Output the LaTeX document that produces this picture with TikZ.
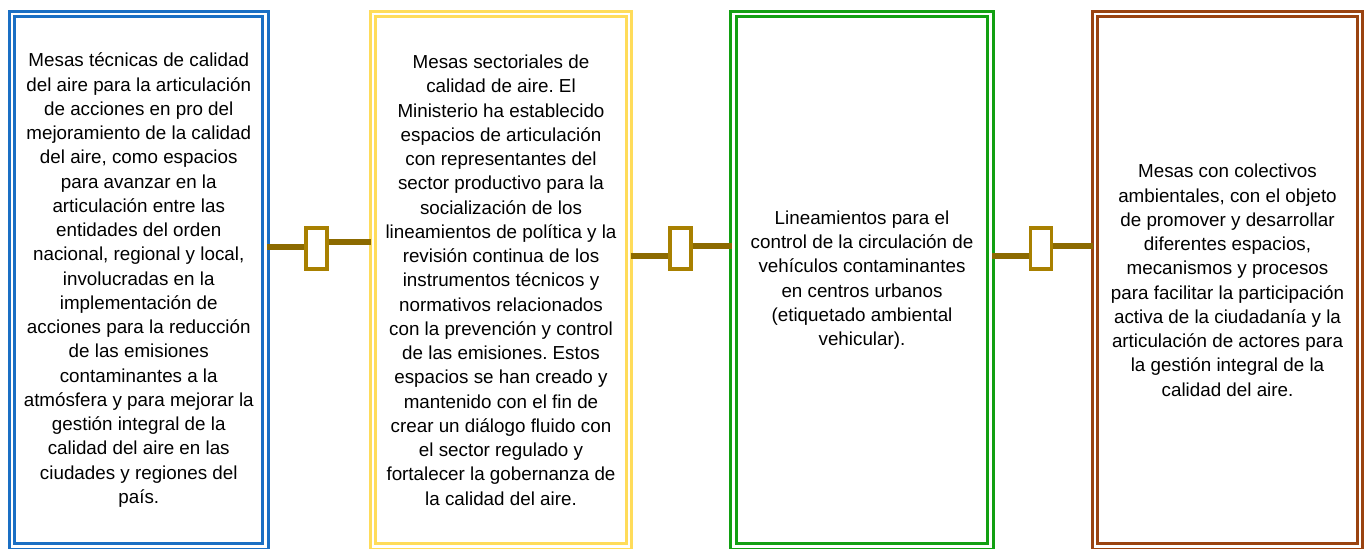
\documentclass[tikz,border=0pt]{standalone}
\usepackage{fontspec}
\setmainfont{Liberation Sans}
\usetikzlibrary{calc}
\definecolor{MesaBlue}{HTML}{1A6FC4}
\definecolor{MesaYellow}{HTML}{FFDC5A}
\definecolor{MesaGreen}{HTML}{12A012}
\definecolor{MesaBrown}{HTML}{9A4310}
\definecolor{LinkGold}{HTML}{8C6A00}
\definecolor{LinkEdge}{HTML}{A88000}
\frenchspacing

\begin{document}
\begin{tikzpicture}[
    every node/.style={font=\fontsize{10.7}{13.8}\selectfont},
    mesa/.style={rectangle, line width=1.9pt, double=white, double distance=1.2pt, minimum height=10.65cm, align=center, inner sep=0pt},
    link/.style={rectangle, draw=LinkEdge, line width=2.2pt, fill=white, minimum width=0.42cm, minimum height=0.82cm, inner sep=0pt},
    bar/.style={draw=LinkGold, line width=3.4pt}
  ]
    \useasboundingbox (0,0) rectangle (27.28,10.96);
    \node[mesa, draw=MesaBlue, minimum width=5.07cm] (m1) at (2.775,5.355) {Mesas técnicas de calidad\\del aire para la articulación\\de acciones en pro del\\mejoramiento de la calidad\\del aire, como espacios\\para avanzar en la\\articulación entre las\\entidades del orden\\nacional, regional y local,\\involucradas en la\\implementación de\\acciones para la reducción\\de las emisiones\\contaminantes a la\\atmósfera y para mejorar la\\gestión integral de la\\calidad del aire en las\\ciudades y regiones del\\país.};
    \node[mesa, draw=MesaYellow, minimum width=5.12cm] (m2) at (10.02,5.355) {Mesas sectoriales de\\calidad de aire. El\\Ministerio ha establecido\\espacios de articulación\\con representantes del\\sector productivo para la\\socialización de los\\lineamientos de política y la\\revisión continua de los\\instrumentos técnicos y\\normativos relacionados\\con la prevención y control\\de las emisiones. Estos\\espacios se han creado y\\mantenido con el fin de\\crear un diálogo fluido con\\el sector regulado y\\fortalecer la gobernanza de\\la calidad del aire.};
    \node[mesa, draw=MesaGreen, minimum width=5.14cm] (m3) at (17.24,5.355) {Lineamientos para el\\control de la circulación de\\vehículos contaminantes\\en centros urbanos\\(etiquetado ambiental\\vehicular).};
    \node[mesa, draw=MesaBrown, minimum width=5.3cm] (m4) at (24.55,5.355) {Mesas con colectivos\\ambientales, con el objeto\\de promover y desarrollar\\diferentes espacios,\\mecanismos y procesos\\para facilitar la participación\\activa de la ciudadanía y la\\articulación de actores para\\la gestión integral de la\\calidad del aire.};
    \node[link] (k1) at (6.33,5.99) {};
    \node[link] (k2) at (13.61,5.99) {};
    \node[link] (k3) at (20.82,5.99) {};
    % bars on both sides of each link
    \draw[bar] ($(m1.east |- k1.west)+(0,0.036)$) -- ($(k1.west)+(0,0.036)$);
    \draw[bar] ($(k1.east)+(0,0.136)$) -- ($(m2.west |- k1.east)+(0,0.136)$);
    \draw[bar] ($(m2.east |- k2.west)+(0,-0.15)$) -- ($(k2.west)+(0,-0.15)$);
    \draw[bar] ($(k2.east)+(0,0.056)$) -- ($(m3.west |- k2.east)+(0,0.056)$);
    \draw[bar] ($(m3.east |- k3.west)+(0,-0.154)$) -- ($(k3.west)+(0,-0.154)$);
    \draw[bar] ($(k3.east)+(0,0.056)$) -- ($(m4.west |- k3.east)+(0,0.056)$);
  \end{tikzpicture}
\end{document}
